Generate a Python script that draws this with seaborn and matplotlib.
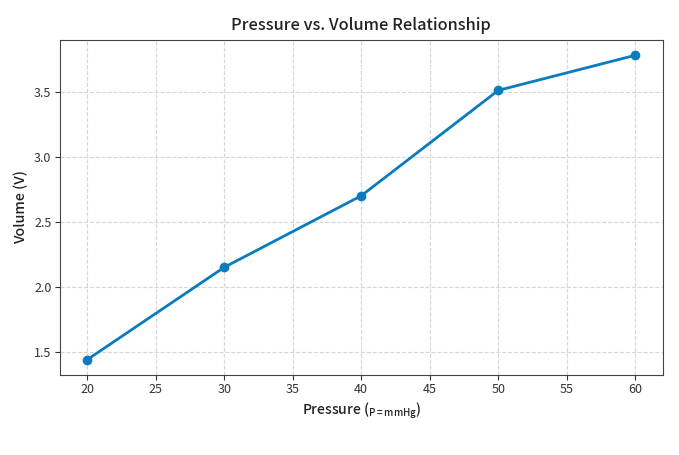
import matplotlib
matplotlib.use("Agg")
import pandas as pd
import seaborn as sns
import matplotlib.pyplot as plt

pressure = [20, 30, 40, 50, 60]
volume = [1.44, 2.15, 2.70, 3.51, 3.78]

df = pd.DataFrame({"Pressure": pressure, "Volume": volume})

sns.set_style("ticks")
plt.rcParams['font.family'] = ['Noto Sans CJK JP', 'DejaVu Sans']

fig, ax = plt.subplots(figsize=(6.79, 4.55), dpi=100)
fig.subplots_adjust(left=0.088, right=0.976, top=0.912, bottom=0.176)

sns.lineplot(data=df, x="Pressure", y="Volume", marker="o", color="#0a7bbd",
             linewidth=2, markersize=7, markeredgewidth=0, ax=ax)

ax.grid(True, linestyle="--", color="#d6d6d6", linewidth=0.8)
ax.set_title("Pressure vs. Volume Relationship", fontsize=11.8, color="#222222",
             fontweight="medium", pad=7)
ax.set_xlabel(r"Pressure ($\mathregular{_{P=mmHg}}$)", fontsize=10,
              color="#222222", fontweight="medium", labelpad=3)
ax.set_ylabel("Volume (V)", fontsize=10.3, color="#222222",
              fontweight="medium", labelpad=4)
ax.tick_params(labelsize=9, colors="#333333", pad=2.5)
for s in ax.spines.values():
    s.set_color("#444444")

plt.savefig("out.png", dpi=100)
